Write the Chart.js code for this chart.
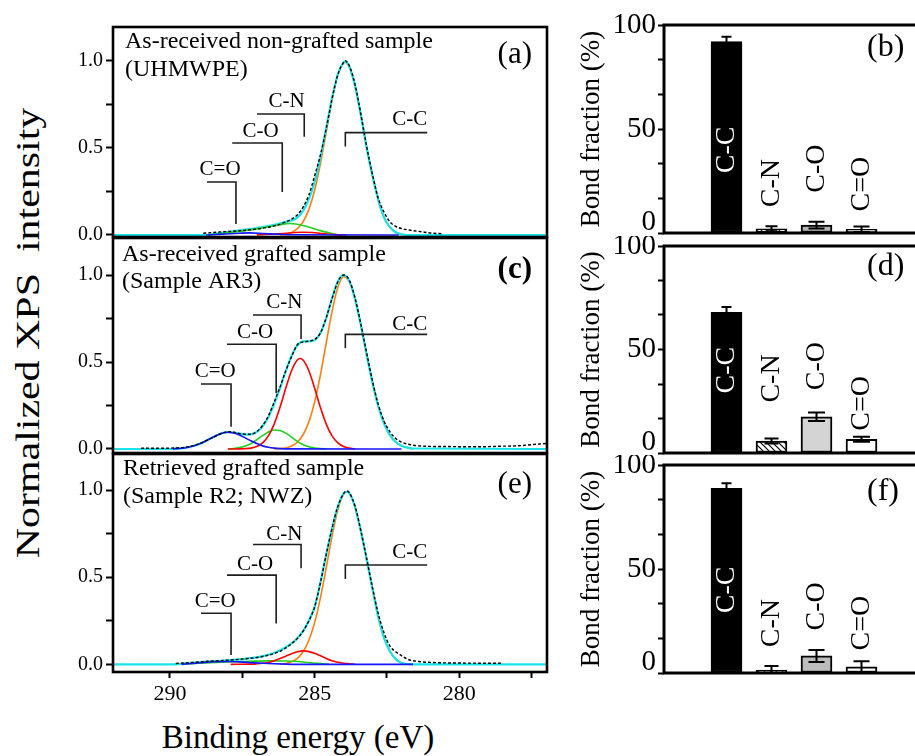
<!DOCTYPE html>
<html><head><meta charset="utf-8">
<script src="https://cdn.jsdelivr.net/npm/chart.js@4.4.0/dist/chart.umd.min.js"></script>
<style>
html,body{margin:0;padding:0;background:#fff;overflow:hidden;}
body{width:915px;height:756px;position:relative;}
canvas{position:absolute;}
.t{position:absolute;font-family:'Liberation Serif','Times New Roman',serif;color:#000;white-space:pre;line-height:1;}
</style></head><body>
<div class="t" style="left:28px;top:333px;font-size:33px;transform:translate(-50%,-50%) rotate(-90deg) scaleX(1.27);">Normalized XPS  intensity</div>
<div class="t" style="left:298px;top:737px;font-size:33px;transform:translate(-50%,-50%);">Binding energy (eV)</div>
<canvas id="cA" width="515" height="225" style="left:40px;top:17px"></canvas>
<canvas id="cC" width="515" height="230" style="left:40px;top:230px"></canvas>
<canvas id="cE" width="515" height="264" style="left:40px;top:446px"></canvas>
<canvas id="cB" width="370" height="233" style="left:572px;top:5px"></canvas>
<canvas id="cD" width="370" height="222" style="left:572px;top:236px"></canvas>
<canvas id="cF" width="370" height="223" style="left:572px;top:455px"></canvas>
<script>
// ---------------- data ----------------
const energyTicks = [290, 287.5, 285, 282.5, 280, 277.5];
const energyTickLabels = [290, 285, 280];
const intensityTicks = [0, 0.25, 0.5, 0.75, 1.0];
const intensityTickLabels = [0, 0.5, 1.0];
const bondTicks = [0, 16.667, 33.333, 50, 66.667, 83.333, 100];
const bondTickLabels = [0, 50, 100];

// (a) as-received non-grafted (UHMWPE)
const expA_E = [288.85, 288.3, 287.6, 287.0, 286.4, 286.0, 285.6, 285.4, 285.2, 285.0, 284.8, 284.6, 284.4, 284.2, 284.0, 283.95, 283.8, 283.6, 283.4, 283.2, 283.0, 282.8, 282.6, 282.4, 282.2, 282.0, 281.6, 281.2, 280.9, 280.6];
const expA = [0.010, 0.017, 0.024, 0.034, 0.052, 0.075, 0.115, 0.16, 0.23, 0.34, 0.46, 0.61, 0.78, 0.92, 0.99, 1.0, 0.97, 0.86, 0.69, 0.505, 0.345, 0.21, 0.13, 0.075, 0.05, 0.037, 0.025, 0.016, 0.01, 0.008];
const envA_E = [291.97, 288.75, 288.2, 287.6, 287.0, 286.4, 286.0, 285.6, 285.4, 285.2, 285.0, 284.8, 284.6, 284.4, 284.2, 284.0, 283.95, 283.8, 283.6, 283.4, 283.2, 283.0, 282.8, 282.6, 282.4, 282.2, 282.0, 281.8, 276.97];
const envA = [0, 0, 0.013, 0.026, 0.04, 0.058, 0.075, 0.1, 0.14, 0.205, 0.305, 0.445, 0.615, 0.785, 0.922, 0.99, 0.995, 0.965, 0.853, 0.684, 0.498, 0.34, 0.2, 0.1, 0.045, 0.016, 0.004, 0, 0];
const ccA_E = [286.2, 286.0, 285.8, 285.6, 285.4, 285.2, 285.0, 284.8, 284.6, 284.4, 284.2, 284.0, 283.95, 283.8, 283.6, 283.4, 283.2, 283.0, 282.8, 282.6, 282.4, 282.2, 282.0, 281.8];
const ccA = [0, 0.006, 0.015, 0.036, 0.076, 0.147, 0.258, 0.41, 0.591, 0.773, 0.917, 0.987, 0.99, 0.963, 0.852, 0.684, 0.498, 0.34, 0.2, 0.1, 0.045, 0.016, 0.004, 0];
const cnA_E = [287.0, 286.6, 286.0, 285.7, 285.4, 285.1, 284.7, 284.3, 283.9];
const cnA = [0, 0.004, 0.01, 0.014, 0.016, 0.014, 0.008, 0.002, 0];
const coA_E = [288.75, 288.2, 287.6, 286.9, 286.3, 285.85, 285.3, 284.8, 284.35, 284.2];
const coA = [0, 0.009, 0.02, 0.038, 0.056, 0.066, 0.05, 0.025, 0.006, 0];
const c2oA_E = [288.75, 288.2, 287.6, 287.25, 286.8, 286.2, 285.7, 282.1];
const c2oA = [0, 0.005, 0.01, 0.012, 0.009, 0.004, 0.001, 0];

// (c) as-received grafted (AR3)
const expC_E = [291.0, 290.4, 289.8, 289.4, 289.0, 288.6, 288.2, 288.0, 287.8, 287.5, 287.2, 287.0, 286.8, 286.6, 286.4, 286.2, 286.0, 285.8, 285.6, 285.4, 285.2, 285.0, 284.8, 284.6, 284.4, 284.2, 284.0, 283.8, 283.6, 283.4, 283.2, 283.0, 282.8, 282.6, 282.4, 282.2, 282.0, 281.6, 281.0, 280.4, 279.8, 279.2, 278.6, 278.0, 277.5, 277.0];
const expC = [0.004, 0.004, 0.006, 0.012, 0.03, 0.06, 0.09, 0.1, 0.097, 0.086, 0.085, 0.1, 0.135, 0.19, 0.27, 0.355, 0.45, 0.53, 0.6, 0.615, 0.62, 0.63, 0.667, 0.755, 0.865, 0.96, 1.0, 0.97, 0.865, 0.715, 0.55, 0.39, 0.255, 0.16, 0.1, 0.06, 0.04, 0.022, 0.015, 0.014, 0.013, 0.013, 0.016, 0.018, 0.025, 0.032];
const envC_E = [291.97, 290.0, 289.8, 289.6, 289.4, 289.2, 289.0, 288.8, 288.6, 288.4, 288.2, 288.0, 287.8, 287.6, 287.4, 287.2, 287.0, 286.8, 286.6, 286.4, 286.2, 286.0, 285.8, 285.6, 285.4, 285.2, 285.0, 284.8, 284.6, 284.4, 284.2, 284.0, 283.8, 283.6, 283.4, 283.2, 283.0, 282.8, 282.6, 282.4, 282.2, 282.0, 281.8, 281.6, 276.97];
const envC = [0, 0, 0.002, 0.004, 0.009, 0.017, 0.028, 0.043, 0.061, 0.078, 0.091, 0.097, 0.095, 0.089, 0.083, 0.084, 0.098, 0.13, 0.183, 0.26, 0.348, 0.447, 0.535, 0.595, 0.619, 0.619, 0.626, 0.667, 0.753, 0.865, 0.963, 0.999, 0.965, 0.86, 0.71, 0.54, 0.38, 0.245, 0.146, 0.08, 0.04, 0.019, 0.008, 0.003, 0];
const ccC_E = [286.4, 286.2, 286.0, 285.8, 285.6, 285.4, 285.2, 285.0, 284.8, 284.6, 284.4, 284.2, 284.0, 283.8, 283.6, 283.4, 283.2, 283.0, 282.8, 282.6, 282.4, 282.2, 282.0, 281.8, 281.6];
const ccC = [0, 0.002, 0.006, 0.017, 0.039, 0.082, 0.156, 0.271, 0.427, 0.61, 0.79, 0.928, 0.99, 0.96, 0.86, 0.71, 0.54, 0.38, 0.245, 0.146, 0.08, 0.04, 0.019, 0.008, 0];
const cnC_E = [288.0, 287.4, 287.2, 287.0, 286.8, 286.6, 286.4, 286.2, 286.0, 285.8, 285.6, 285.5, 285.4, 285.2, 285.0, 284.8, 284.6, 284.4, 284.2, 284.0, 283.8, 283.6];
const cnC = [0, 0.002, 0.005, 0.014, 0.035, 0.075, 0.143, 0.238, 0.349, 0.45, 0.512, 0.52, 0.512, 0.45, 0.349, 0.238, 0.143, 0.075, 0.035, 0.014, 0.005, 0];
const coC_E = [288.0, 287.8, 287.6, 287.4, 287.2, 287.0, 286.8, 286.6, 286.4, 286.2, 286.0, 285.8, 285.6, 285.4, 285.2, 285.0, 284.8, 284.6];
const coC = [0.001, 0.003, 0.008, 0.017, 0.032, 0.053, 0.077, 0.098, 0.109, 0.106, 0.091, 0.068, 0.044, 0.025, 0.013, 0.006, 0.002, 0];
const c2oC_E = [289.9, 289.8, 289.6, 289.4, 289.2, 289.0, 288.8, 288.6, 288.4, 288.2, 288.0, 287.8, 287.6, 287.4, 287.2, 287.0, 286.8, 286.6, 286.4, 286.2, 286.0, 282.0];
const c2oC = [0, 0.002, 0.004, 0.009, 0.017, 0.028, 0.043, 0.061, 0.078, 0.091, 0.096, 0.092, 0.081, 0.064, 0.047, 0.031, 0.018, 0.01, 0.005, 0.002, 0.001, 0];

// (e) retrieved grafted (R2; NWZ)
const expE_E = [289.8, 289.2, 288.6, 288.0, 287.4, 286.8, 286.2, 285.8, 285.6, 285.4, 285.2, 285.0, 284.8, 284.6, 284.4, 284.2, 284.0, 283.89, 283.8, 283.6, 283.4, 283.2, 283.0, 282.8, 282.6, 282.4, 282.2, 282.0, 281.8, 281.4, 281.0, 280.4, 279.6, 278.8, 278.5];
const expE = [0.005, 0.011, 0.018, 0.024, 0.032, 0.045, 0.075, 0.118, 0.148, 0.19, 0.25, 0.33, 0.47, 0.63, 0.78, 0.905, 0.98, 0.995, 0.985, 0.905, 0.765, 0.605, 0.44, 0.29, 0.18, 0.105, 0.072, 0.05, 0.03, 0.016, 0.011, 0.008, 0.007, 0.006, 0.006];
const envE_E = [291.97, 289.8, 289.5, 289.0, 288.5, 288.0, 287.5, 287.0, 286.6, 286.2, 285.8, 285.6, 285.4, 285.2, 285.0, 284.8, 284.6, 284.4, 284.2, 284.0, 283.89, 283.8, 283.6, 283.4, 283.2, 283.0, 282.8, 282.6, 282.4, 282.2, 282.0, 281.8, 281.6, 276.97];
const envE = [0, 0, 0.006, 0.012, 0.018, 0.023, 0.03, 0.04, 0.055, 0.08, 0.12, 0.15, 0.19, 0.25, 0.33, 0.47, 0.63, 0.78, 0.905, 0.98, 0.99, 0.982, 0.9, 0.76, 0.6, 0.43, 0.27, 0.15, 0.075, 0.03, 0.008, 0.002, 0, 0];
const ccE_E = [286.2, 286.0, 285.8, 285.6, 285.4, 285.2, 285.0, 284.8, 284.6, 284.4, 284.2, 284.0, 283.89, 283.8, 283.6, 283.4, 283.2, 283.0, 282.8, 282.6, 282.4, 282.2, 282.0, 281.8, 281.6];
const ccE = [0, 0.005, 0.015, 0.034, 0.072, 0.138, 0.24, 0.383, 0.555, 0.734, 0.887, 0.976, 0.99, 0.981, 0.899, 0.76, 0.6, 0.43, 0.27, 0.15, 0.075, 0.03, 0.008, 0.002, 0];
const cnE_E = [287.9, 287.2, 287.0, 286.8, 286.6, 286.4, 286.2, 286.0, 285.8, 285.6, 285.4, 285.2, 285.0, 284.8, 284.6, 284.4, 284.2, 284.0, 283.8, 283.6];
const cnE = [0, 0.001, 0.003, 0.006, 0.011, 0.02, 0.033, 0.047, 0.061, 0.072, 0.077, 0.073, 0.063, 0.049, 0.034, 0.021, 0.012, 0.006, 0.003, 0];
const coE_E = [289.6, 289.0, 288.4, 287.8, 287.2, 286.6, 286.0, 285.6, 285.2, 284.8, 284.5];
const coE = [0, 0.006, 0.011, 0.015, 0.018, 0.02, 0.019, 0.016, 0.01, 0.004, 0];
const c2oE_E = [289.6, 289.2, 288.8, 288.4, 288.0, 287.6, 287.2, 286.8, 286.4, 286.0, 285.6, 281.6];
const c2oE = [0, 0.005, 0.011, 0.015, 0.016, 0.014, 0.01, 0.006, 0.003, 0.001, 0, 0];

// bond fractions (%)
const bondCategories = ['C-C', 'C-N', 'C-O', 'C=O'];
const fractionB = [92, 2, 3.8, 1.8];
const errorB = [2.4, 1.2, 1.6, 1.3];
const fractionD = [68, 5.8, 17.5, 6.6];
const errorD = [2.5, 1.2, 2.1, 1.2];
const fractionF = [88.8, 1.4, 8.2, 3.0];
const errorF = [2.4, 2.0, 2.9, 2.6];

// ---------------- styling ----------------
const FONT = "'Liberation Serif', serif";
Chart.defaults.font.family = FONT;
Chart.defaults.color = '#000';
const COL = {exp:'#000000', env:'#17e3ea', cc:'#ff7f0e', cn:'#ff0000', co:'#1ed21e', c2o:'#1515ff'};

function pts(xs, ys){ return xs.map((x, i) => ({x: x, y: ys[i]})); }
function ln(xs, ys, color, width, dash){
  return {data: pts(xs, ys), borderColor: color, borderWidth: width, borderDash: dash || [],
    pointRadius: 0, fill: false, cubicInterpolationMode: 'monotone'};
}
const near = (v, list) => list.some(t => Math.abs(t - v) < 1e-3);

const framePlugin = {
  id: 'frame',
  afterDraw(chart, args, o){
    const {ctx, chartArea: a} = chart;
    ctx.save(); ctx.lineWidth = o.width || 2.5; ctx.strokeStyle = '#000';
    ctx.strokeRect(a.left, a.top, a.right - a.left, a.bottom - a.top);
    ctx.restore();
  }
};

const notesPlugin = {
  id: 'notes',
  afterDatasetsDraw(chart, args, o){
    if (!o || !o.kind) return;
    const ctx = chart.ctx, a = chart.chartArea, xs = chart.scales.x, ys = chart.scales.y;
    ctx.save();
    ctx.fillStyle = '#000';
    if (o.kind === 'xps'){
      ctx.strokeStyle = '#1e1e1e'; ctx.lineWidth = 1.6;
      ctx.font = '21px ' + FONT; ctx.textAlign = 'center'; ctx.textBaseline = 'alphabetic';
      o.brackets.forEach(b => {
        const xv = xs.getPixelForValue(b.xv), xo = xs.getPixelForValue(b.xo);
        const y0 = ys.getPixelForValue(b.y), y1 = ys.getPixelForValue(b.yEnd);
        ctx.beginPath(); ctx.moveTo(xo, y0); ctx.lineTo(xv, y0); ctx.lineTo(xv, y1); ctx.stroke();
        ctx.fillText(b.text, xs.getPixelForValue(b.tx), ys.getPixelForValue(b.ty));
      });
      ctx.font = '24px ' + FONT; ctx.textAlign = 'left';
      o.lines.forEach((t, i) => ctx.fillText(t, a.left + o.tx, a.top + o.ty[i]));
      ctx.font = (o.tagBold ? 'bold ' : '') + '31px ' + FONT; ctx.textAlign = 'right';
      ctx.fillText(o.tag, a.right - 15, a.top + o.tagDy);
    } else {
      const data = chart.data.datasets[0].data;
      ctx.strokeStyle = '#000'; ctx.lineWidth = 2;
      data.forEach((p, i) => {
        const x = xs.getPixelForValue(p.x), e = o.errors[i], w = o.capWidth[i] / 2;
        const y1 = ys.getPixelForValue(p.y + e), y2 = ys.getPixelForValue(Math.max(p.y - e, 0));
        ctx.beginPath();
        ctx.moveTo(x, y1); ctx.lineTo(x, y2);
        ctx.moveTo(x - w, y1); ctx.lineTo(x + w, y1);
        ctx.moveTo(x - w, y2); ctx.lineTo(x + w, y2);
        ctx.stroke();
      });
      ctx.font = '28px ' + FONT; ctx.textAlign = 'center'; ctx.textBaseline = 'middle';
      data.forEach((p, i) => {
        ctx.save();
        ctx.translate(xs.getPixelForValue(p.x), ys.getPixelForValue(o.labelY[i]));
        ctx.rotate(-Math.PI / 2);
        ctx.fillStyle = i === 0 ? '#fff' : '#000';
        ctx.fillText(bondCategories[i], 0, 0);
        ctx.restore();
      });
      ctx.textBaseline = 'alphabetic'; ctx.textAlign = 'left';
      ctx.font = '32px ' + FONT;
      ctx.fillText(o.tag, a.left + 203, a.top + o.tagDy);
    }
    ctx.restore();
  }
};

function fixY(width){
  return sc => { sc.width = width; sc.paddingTop = 0; sc.paddingBottom = 0; };
}

function xpsPanel(id, s, yMin, yMax, pad, showX, notes){
  return new Chart(document.getElementById(id), {
    type: 'line',
    data: {datasets: [
      ln(s.expE, s.exp, COL.exp, 1.4, [3, 2]),
      ln(s.c2oE, s.c2o, COL.c2o, 1.6),
      ln(s.cnE, s.cn, COL.cn, 1.6),
      ln(s.coE, s.co, COL.co, 1.6),
      ln(s.envE, s.env, COL.env, 2.2),
      ln(s.ccE, s.cc, COL.cc, 1.6)
    ]},
    options: {
      responsive: false, animation: false, events: [], devicePixelRatio: 1,
      layout: {padding: {top: pad[0], right: 8, bottom: pad[1], left: 0}},
      plugins: {legend: {display: false}, tooltip: {enabled: false}, notes: notes, frame: {width: 2.6}},
      scales: {
        x: {type: 'linear', reverse: true, min: 276.97, max: 291.97, display: showX,
          afterBuildTicks: sc => { sc.ticks = energyTicks.map(v => ({value: v})); },
          afterFit: sc => { sc.height = showX ? 38 : 0; sc.paddingLeft = 0; sc.paddingRight = 0; },
          border: {display: false},
          grid: {drawOnChartArea: false, drawTicks: true, tickLength: 6, tickWidth: 2, tickColor: '#000'},
          ticks: {autoSkip: false, maxRotation: 0, padding: 3, color: '#000', font: {size: 22, family: FONT},
            callback: v => near(v, energyTickLabels) ? String(Math.round(v)) : ''}
        },
        y: {min: yMin, max: yMax,
          afterBuildTicks: sc => { sc.ticks = intensityTicks.map(v => ({value: v})); },
          afterFit: fixY(73),
          border: {display: false},
          grid: {drawOnChartArea: false, drawTicks: true, tickLength: 7, tickWidth: 2, tickColor: '#000'},
          ticks: {autoSkip: false, padding: 3, color: '#000', font: {size: 20, family: FONT},
            callback: v => near(v, intensityTickLabels) ? v.toFixed(1) : ''}
        }
      }
    },
    plugins: [framePlugin, notesPlugin]
  });
}

function makeHatch(){
  const c = document.createElement('canvas'); c.width = 6; c.height = 6;
  const g = c.getContext('2d');
  g.fillStyle = '#fff'; g.fillRect(0, 0, 6, 6);
  g.strokeStyle = '#000'; g.lineWidth = 1.2;
  g.beginPath(); g.moveTo(-1, -1); g.lineTo(7, 7); g.moveTo(-4, 2); g.lineTo(4, 10); g.moveTo(2, -4); g.lineTo(10, 4); g.stroke();
  return g.createPattern(c, 'repeat');
}

function barPanel(id, values, errors, pad, gray, hatch, notes){
  notes.errors = errors;
  return new Chart(document.getElementById(id), {
    type: 'bar',
    data: {datasets: [{
      data: bondCategories.map((c, i) => ({x: i + 1, y: values[i]})),
      backgroundColor: ['#000', hatch, gray, '#fff'],
      borderColor: '#000', borderWidth: 2, borderSkipped: false, barThickness: 31
    }]},
    options: {
      responsive: false, animation: false, events: [], devicePixelRatio: 1,
      layout: {padding: {top: pad[0], right: 0, bottom: pad[1], left: 0}},
      plugins: {legend: {display: false}, tooltip: {enabled: false}, notes: notes, frame: {width: 3}},
      scales: {
        x: {type: 'linear', min: -0.389, max: 5.789, display: false, offset: false,
          afterFit: sc => { sc.height = 0; sc.paddingLeft = 0; sc.paddingRight = 0; }},
        y: {min: 0, max: 100,
          afterBuildTicks: sc => { sc.ticks = bondTicks.map(v => ({value: v})); },
          afterFit: fixY(92),
          border: {display: false},
          title: {display: true, text: 'Bond fraction (%)', color: '#000', font: {size: 27, family: FONT}, padding: {top: 4, bottom: 4}},
          grid: {drawOnChartArea: false, drawTicks: true, tickLength: 6, tickWidth: 2, tickColor: '#000'},
          ticks: {autoSkip: false, padding: 2, color: '#000', font: {size: 29, family: FONT, lineHeight: 0.7},
            callback: v => near(v, bondTickLabels) ? (Math.round(v) === 0 ? ['0', ''] : String(Math.round(v))) : ''}
        }
      }
    },
    plugins: [framePlugin, notesPlugin]
  });
}

function build(){
  xpsPanel('cA', {expE: expA_E, exp: expA, envE: envA_E, env: envA, ccE: ccA_E, cc: ccA, cnE: cnA_E, cn: cnA, coE: coA_E, co: coA, c2oE: c2oA_E, c2o: c2oA},
    -0.0115, 1.193, [10, 5], false,
    {kind: 'xps', lines: ['As-received non-grafted sample', '(UHMWPE)'], tx: 12, ty: [21, 49], tag: '(a)', tagBold: false, tagDy: 36,
     brackets: [
      {text: 'C-C', xv: 283.94, xo: 281.11, y: 0.587, yEnd: 0.507, tx: 281.71, ty: 0.631},
      {text: 'C-N', xv: 285.36, xo: 286.99, y: 0.694, yEnd: 0.564, tx: 285.97, ty: 0.734},
      {text: 'C-O', xv: 286.12, xo: 287.85, y: 0.528, yEnd: 0.247, tx: 286.87, ty: 0.562},
      {text: 'C=O', xv: 287.72, xo: 288.72, y: 0.304, yEnd: 0.063, tx: 288.27, ty: 0.344}]});

  xpsPanel('cC', {expE: expC_E, exp: expC, envE: envC_E, env: envC, ccE: ccC_E, cc: ccC, cnE: cnC_E, cn: cnC, coE: coC_E, co: coC, c2oE: c2oC_E, c2o: c2oC},
    -0.023, 1.213, [8, 7], false,
    {kind: 'xps', lines: ['As-received grafted sample', '(Sample AR3)'], tx: 9, ty: [23.4, 50], tag: '(c)', tagBold: true, tagDy: 40,
     brackets: [
      {text: 'C-C', xv: 283.94, xo: 281.11, y: 0.659, yEnd: 0.579, tx: 281.71, ty: 0.684},
      {text: 'C-N', xv: 285.47, xo: 287.13, y: 0.770, yEnd: 0.632, tx: 286.05, ty: 0.809},
      {text: 'C-O', xv: 286.33, xo: 288.03, y: 0.602, yEnd: 0.32, tx: 287.06, ty: 0.636},
      {text: 'C=O', xv: 287.89, xo: 288.93, y: 0.374, yEnd: 0.128, tx: 288.44, ty: 0.416}]});

  xpsPanel('cE', {expE: expE_E, exp: expE, envE: envE_E, env: envE, ccE: ccE_E, cc: ccE, cnE: cnE_E, cn: cnE, coE: coE_E, co: coE, c2oE: c2oE_E, c2o: c2oE},
    -0.044, 1.207, [8, 0], true,
    {kind: 'xps', lines: ['Retrieved grafted sample', '(Sample R2; NWZ)'], tx: 10, ty: [20.7, 49], tag: '(e)', tagBold: false, tagDy: 39,
     brackets: [
      {text: 'C-C', xv: 283.94, xo: 281.11, y: 0.57, yEnd: 0.489, tx: 281.71, ty: 0.608},
      {text: 'C-N', xv: 285.47, xo: 287.13, y: 0.688, yEnd: 0.551, tx: 286.05, ty: 0.713},
      {text: 'C-O', xv: 286.33, xo: 288.03, y: 0.512, yEnd: 0.235, tx: 287.06, ty: 0.541},
      {text: 'C=O', xv: 287.89, xo: 288.93, y: 0.293, yEnd: 0.053, tx: 288.44, ty: 0.330}]});

  const hatch = makeHatch();
  barPanel('cB', fractionB, errorB, [20, 5], '#b4b4b4', hatch, {kind: 'bars', tag: '(b)', tagDy: 31, labelY: [40, 24, 31, 23.5], capWidth: [10, 12, 16, 16]});
  barPanel('cD', fractionD, errorD, [10, 5], '#d4d4d4', hatch, {kind: 'bars', tag: '(d)', tagDy: 29, labelY: [40, 36, 42, 24], capWidth: [10, 14, 17, 17]});
  barPanel('cF', fractionF, errorF, [10, 5], '#bcbcbc', hatch, {kind: 'bars', tag: '(f)', tagDy: 35, labelY: [40, 24, 32, 24], capWidth: [10, 14, 16, 16]});
}

let built = false;
function go(){ if (!built){ built = true; build(); } }
if (document.fonts && document.fonts.load){
  Promise.all([
    document.fonts.load("20px 'Liberation Serif'"),
    document.fonts.load("bold 20px 'Liberation Serif'")
  ]).then(go, go);
  setTimeout(go, 1500);
} else { go(); }
</script>
</body></html>
